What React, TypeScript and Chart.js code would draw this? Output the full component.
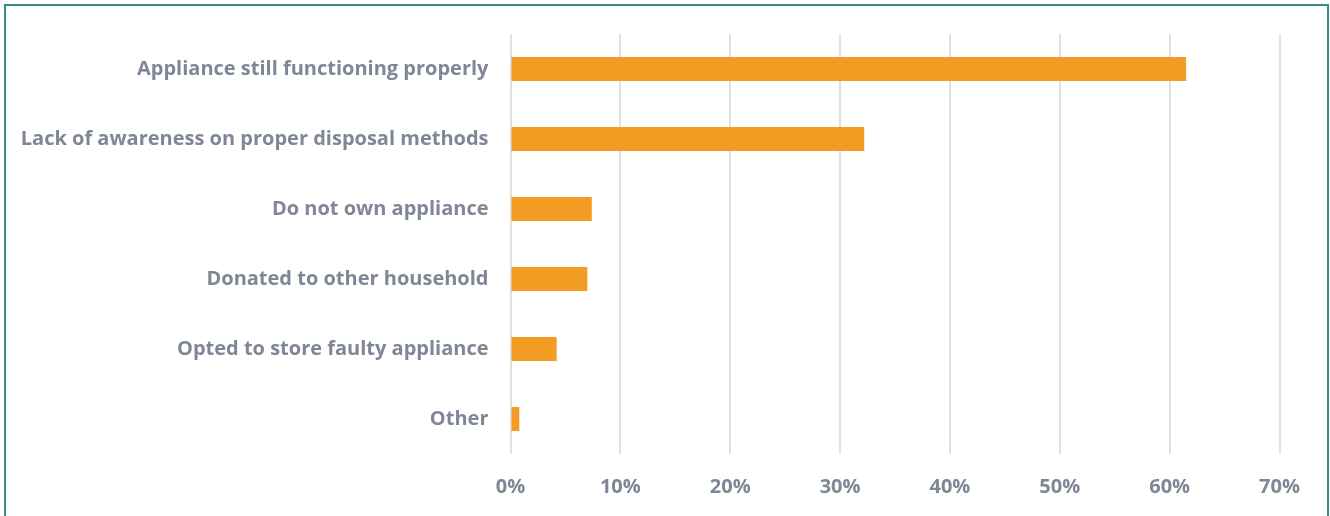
import React, { useEffect, useRef } from "react";
import { Chart, registerables } from "chart.js";

Chart.register(...registerables);

const categories = [
  "Appliance still functioning properly",
  "Lack of awareness on proper disposal methods",
  "Do not own appliance",
  "Donated to other household",
  "Opted to store faulty appliance",
  "Other",
];
const values = [61.5, 32.2, 7.4, 7.0, 4.2, 0.8];
const xTicks = [0, 10, 20, 30, 40, 50, 60, 70];

const TEXT = "#7f8796";
const FONT = "'Open Sans'";

export default function App() {
  const ref = useRef<HTMLCanvasElement | null>(null);
  useEffect(() => {
    document.body.style.margin = "0";
    const ctx = ref.current!;
    const chart = new Chart(ctx, {
      type: "bar",
      data: {
        labels: categories,
        datasets: [
          {
            data: values,
            backgroundColor: "#f39c24",
            borderWidth: 0,
            categoryPercentage: 1,
            barPercentage: 0.345,
          },
        ],
      },
      options: {
        indexAxis: "y",
        animation: false,
        responsive: false,
        maintainAspectRatio: false,
        layout: { padding: { left: 0, right: 50.5, top: 34, bottom: 0 } },
        plugins: { legend: { display: false }, tooltip: { enabled: false } },
        scales: {
          x: {
            min: 0,
            max: 70,
            afterBuildTicks: (s: any) => {
              s.ticks = xTicks.map((v) => ({ value: v }));
            },
            afterFit: (s: any) => {
              s.height = 62;
            },
            grid: { color: "#e0e0e4", lineWidth: 2, drawTicks: false },
            border: { display: false },
            ticks: {
              padding: 21,
              color: TEXT,
              font: { family: FONT, size: 20, weight: "bold" },
              callback: (v: any) => v + "%",
            },
          },
          y: {
            afterFit: (s: any) => {
              s.width = 510.5;
            },
            grid: { display: false, drawTicks: false },
            border: { display: false },
            ticks: {
              padding: 22,
              color: TEXT,
              font: { family: FONT, size: 20, weight: "bold" },
            },
          },
        },
      },
    });
    return () => chart.destroy();
  }, []);
  return (
    <div style={{ position: "relative", width: 1330, height: 516, overflow: "hidden", background: "#fff" }}>
      <canvas ref={ref} width={1330} height={516} style={{ position: "absolute", left: 0, top: 0 }} />
      <div
        style={{
          position: "absolute",
          left: 4,
          top: 4,
          width: 1325,
          height: 560,
          boxSizing: "border-box",
          border: "2px solid #3b8a8a",
          pointerEvents: "none",
        }}
      />
    </div>
  );
}
